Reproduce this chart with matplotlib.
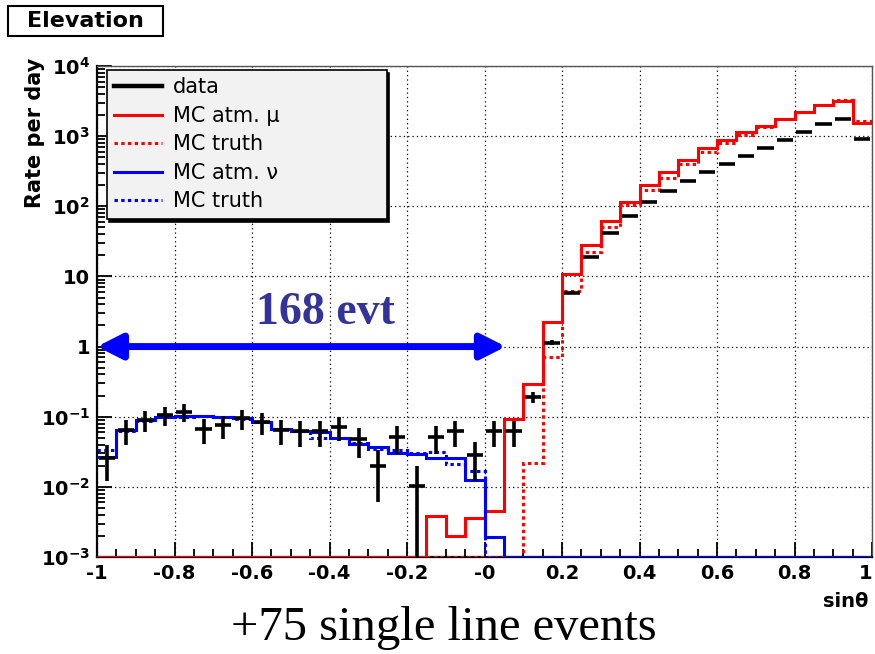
import numpy as np
import matplotlib

matplotlib.use("Agg")
import matplotlib.pyplot as plt
from matplotlib.lines import Line2D
from matplotlib.patches import Rectangle
from matplotlib.ticker import LogLocator, MultipleLocator, NullFormatter

plt.rcParams["font.family"] = ["DejaVu Sans"]
plt.rcParams["mathtext.fontset"] = "dejavusans"

# 40 bins of 0.05 in sin(theta)
edges = np.linspace(-1.0, 1.0, 41)
FLOOR = 1e-3  # empty bins drawn on the bottom of the log frame (ROOT style)

data = [0.026, 0.064, 0.09, 0.105, 0.118, 0.067, 0.075, 0.095, 0.083, 0.064,
        0.062, 0.062, 0.072, 0.048, 0.020, 0.051, 0.0102, 0.051, 0.062, 0.028,
        0.062, 0.062, 0.19, 1.14, 5.9, 19, 41, 72, 114, 163,
        227, 309, 398, 518, 667, 877, 1130, 1480, 1770, 925]
data_err = [0.014, 0.025, 0.029, 0.032, 0.034, 0.026, 0.027, 0.030, 0.029, 0.025,
            0.025, 0.025, 0.027, 0.022, 0.014, 0.022, 0.0099, 0.022, 0.025, 0.016,
            0.025, 0.025, 0.035, 0.1, 0.25, 0.4, 0.6, 0.8, 1.0, 1.2,
            1.5, 1.7, 2.0, 2.2, 2.5, 2.9, 3.3, 3.8, 4.2, 3.0]

mc_mu = [FLOOR] * 17 + [0.0038, 0.002, 0.0036, 0.0046, 0.093, 0.29, 2.25, 10.7,
                        28, 62, 114, 200, 306, 454, 680, 877, 1140, 1390, 1730,
                        2240, 2750, 3120, 1520]
mc_mu_truth = [FLOOR] * 22 + [0.022, 0.72, 6.3, 22, 50, 105, 170, 256, 400, 590,
                              800, 1050, 1350, 1730, 2240, 2760, 3250, 1620]
mc_nu = [0.027, 0.064, 0.09, 0.1, 0.103, 0.103, 0.1, 0.095, 0.083, 0.067,
         0.063, 0.060, 0.049, 0.041, 0.037, 0.030, 0.029, 0.026, 0.026, 0.0127,
         0.0019] + [FLOOR] * 19
mc_nu_truth = [0.033, 0.062, 0.088, 0.098, 0.1, 0.101, 0.1, 0.093, 0.085, 0.066,
               0.062, 0.05, 0.05, 0.042, 0.035, 0.033, 0.03, 0.031, 0.021, 0.017] + [FLOOR] * 20

xticks = [-1, -0.8, -0.6, -0.4, -0.2, 0, 0.2, 0.4, 0.6, 0.8, 1]
xtick_labels = ["-1", "-0.8", "-0.6", "-0.4", "-0.2", "-0", "0.2", "0.4", "0.6", "0.8", "1"]
yticks = [1e-3, 1e-2, 1e-1, 1, 10, 1e2, 1e3, 1e4]
ytick_labels = [r"$\mathbf{10^{-3}}$", r"$\mathbf{10^{-2}}$", r"$\mathbf{10^{-1}}$", "1", "10",
                r"$\mathbf{10^{2}}$", r"$\mathbf{10^{3}}$", r"$\mathbf{10^{4}}$"]

W, H = 875, 654
fig = plt.figure(figsize=(W / 100, H / 100), dpi=100)
ax = fig.add_axes([97 / W, 1 - 557 / H, 775 / W, 491 / H])
ax.set_yscale("log")
ax.set_xlim(-1, 1)
ax.set_ylim(1e-3, 1e4)

RED, BLUE = "#ff0000", "#0000ff"
dots = (0, (1.1, 1.1))
ax.stairs(mc_mu, edges, color=RED, lw=2.2, baseline=None, zorder=3)
ax.stairs(mc_mu_truth, edges, color=RED, lw=2.2, ls=dots, baseline=None, zorder=3)
ax.stairs(mc_nu, edges, color=BLUE, lw=2.2, baseline=None, zorder=3)
ax.stairs(mc_nu_truth, edges, color=BLUE, lw=2.2, ls=dots, baseline=None, zorder=3)

centers = 0.5 * (edges[:-1] + edges[1:])
ax.errorbar(centers, data, yerr=data_err, xerr=0.021, fmt="none", ecolor="black",
            elinewidth=2.6, capsize=0, zorder=4)

# annotation: double arrow and event count
ax.annotate("", xy=(-1, 1), xytext=(0.055, 1),
            arrowprops=dict(arrowstyle="<|-|>,head_length=0.75,head_width=0.38",
                            mutation_scale=20, lw=5, color=BLUE,
                            shrinkA=0, shrinkB=0), zorder=5)
ax.text(-0.41, 2.1, "168 evt", ha="center", va="baseline", fontsize=33,
        fontweight="bold", family="Liberation Serif", color="#333399", zorder=5)

# axes styling, ROOT-like
ax.set_xticks(xticks, xtick_labels)
ax.set_yticks(yticks, ytick_labels)
ax.xaxis.set_minor_locator(MultipleLocator(0.05))
ax.yaxis.set_minor_locator(LogLocator(base=10, subs=np.arange(2, 10)))
ax.yaxis.set_minor_formatter(NullFormatter())
ax.tick_params(which="both", direction="in", top=False, right=False, width=1.3)
ax.tick_params(which="major", length=11, pad=5, labelsize=14)
ax.tick_params(which="minor", length=5.5)
for lbl in ax.get_xticklabels() + ax.get_yticklabels():
    lbl.set_fontweight("bold")
ax.get_xticklabels()[-1].set_horizontalalignment("right")
ax.grid(True, which="major", color="black", lw=0.9, ls=(0, (1, 2.5)))
for side in ("left", "bottom"):
    ax.spines[side].set_linewidth(1.6)
for side in ("top", "right"):
    ax.spines[side].set_color("#555555")
    ax.spines[side].set_linewidth(1.0)

handles = [
    Line2D([], [], color="black", lw=3.2),
    Line2D([], [], color=RED, lw=2.2),
    Line2D([], [], color=RED, lw=2.2, ls=dots),
    Line2D([], [], color=BLUE, lw=2.2),
    Line2D([], [], color=BLUE, lw=2.2, ls=dots),
]
labels = ["data", "MC atm. μ", "MC truth", "MC atm. ν", "MC truth"]
leg = ax.legend(handles, labels, loc="upper left", mode="expand",
                bbox_to_anchor=(0.0125, 0.5, 0.3613, 0.4919), fontsize=15,
                frameon=True, fancybox=False, facecolor="#f2f2f2", edgecolor="black",
                framealpha=1, borderpad=0.35, labelspacing=0.41, handlelength=2.3,
                handletextpad=0.55, borderaxespad=0,
                shadow={"color": "black", "alpha": 1})
leg.get_frame().set_linewidth(1.2)
leg.set_zorder(10)

# labels and captions
fig.text(35 / W, 1 - 58 / H, "Rate per day", rotation=90, ha="center", va="top",
         fontsize=15, fontweight="bold")
fig.text(868 / W, 1 - 607 / H, "sinθ", ha="right", va="baseline",
         fontsize=14, fontweight="bold")
fig.add_artist(Rectangle((8 / W, 1 - 36 / H), 155 / W, 30 / H, transform=fig.transFigure,
                         facecolor="white", edgecolor="black", lw=1.5))
fig.text(85.5 / W, 1 - 21 / H, "Elevation", ha="center", va="center",
         fontsize=16, fontweight="bold")
fig.text(444 / W, 1 - 640 / H, "+75 single line events", ha="center", va="baseline",
         fontsize=35, family="Liberation Serif")

fig.savefig("out.png", dpi=100)
